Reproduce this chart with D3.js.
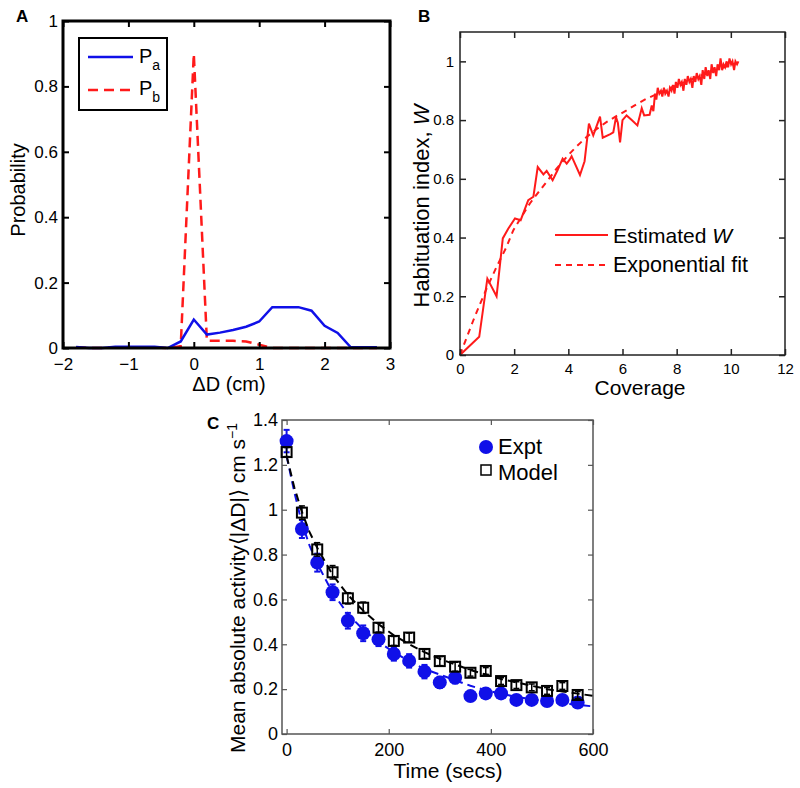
<!DOCTYPE html>
<html><head><meta charset="utf-8">
<script src="https://cdn.jsdelivr.net/npm/d3@7"></script>
<style>body{margin:0;background:#fff}svg{display:block}text{font-family:"Liberation Sans",Arial,sans-serif}</style>
</head><body><svg id="c" width="800" height="788"></svg>
<script>
// ---------- Panel A data ----------
const dD = [-1.8,-1.6,-1.4,-1.2,-1.0,-0.8,-0.6,-0.4,-0.2,0,0.2,0.4,0.6,0.8,1.0,1.2,1.4,1.6,1.8,2.0,2.2,2.4,2.6,2.8];
const Pa = [0.003,0,0,0.004,0.004,0.004,0.004,0,0.02,0.087,0.041,0.047,0.055,0.065,0.081,0.125,0.125,0.125,0.114,0.068,0.046,0.002,0.002,0.002];
const Pb = [0.002,0,0,0.002,0.002,0.002,0.002,0,0.005,0.9,0.022,0.022,0.022,0.02,0.01,0,0,0,0,0,0,0,0,0];
const aXTicks = [-2,-1,0,1,2,3];
const aXLabels = ["\u22122","\u22121","0","1","2","3"];
const aYTicks = [0,0.2,0.4,0.6,0.8,1];
const aYLabels = ["0","0.2","0.4","0.6","0.8","1"];

// ---------- Panel B data ----------
const coverage = [0,0.71,1.01,1.35,1.58,1.78,2.03,2.24,2.52,2.71,2.87,3.08,3.2,3.42,3.6,3.79,3.94,4.05,4.12,4.43,4.6,4.76,4.92,5.17,5.27,5.55,5.66,5.76,5.83,5.91,6.0,6.15,6.34,6.55,6.71,6.8,7.0,7.08,7.14,
 7.20,7.25,7.30,7.36,7.42,7.47,7.53,7.58,7.64,7.70,7.75,7.81,7.86,7.92,7.97,8.03,8.08,8.14,8.19,8.25,8.30,8.36,8.41,8.47,8.52,8.58,8.63,8.69,8.74,8.80,8.85,8.91,8.96,9.02,9.07,9.13,9.18,9.24,9.29,9.35,9.40,9.46,9.51,9.57,9.62,9.68,9.73,9.79,9.84,9.90,9.95,10.01,10.06,10.12,10.17,10.23,10.28];
const West = [0,0.062,0.26,0.20,0.397,0.43,0.465,0.459,0.527,0.539,0.64,0.615,0.627,0.595,0.629,0.669,0.652,0.665,0.677,0.613,0.66,0.788,0.748,0.812,0.74,0.752,0.758,0.81,0.79,0.724,0.80,0.816,0.80,0.782,0.84,0.816,0.818,0.85,0.83,
 0.89,0.87,0.91,0.89,0.90,0.88,0.91,0.89,0.90,0.88,0.91,0.90,0.92,0.89,0.93,0.91,0.94,0.92,0.93,0.90,0.94,0.92,0.95,0.93,0.94,0.91,0.95,0.93,0.96,0.94,0.95,0.92,0.97,0.94,0.98,0.95,0.97,0.94,0.99,0.96,0.98,0.95,0.99,0.97,1.01,0.97,0.99,0.98,1.00,0.98,1.01,0.99,1.00,0.97,1.00,0.99,1.00];
const fitCov = [0,0.25,0.5,0.75,1,1.35,1.7,1.97,2.3,2.58,2.9,3.2,3.55,3.94,4.3,4.68,5.05,5.42,5.8,6.15,6.5,6.89,7.3,7.7,8.1,8.5,8.9,9.3,9.7,10.0,10.3];
const fitW = [0,0.06,0.12,0.176,0.23,0.3,0.365,0.425,0.475,0.516,0.555,0.59,0.633,0.675,0.71,0.743,0.77,0.794,0.815,0.833,0.853,0.873,0.89,0.907,0.922,0.937,0.952,0.965,0.978,0.988,0.997];
const bXTicks = [0,2,4,6,8,10,12];
const bYTicks = [0,0.2,0.4,0.6,0.8,1];
const bYLabels = ["0","0.2","0.4","0.6","0.8","1"];

// ---------- Panel C data ----------
const time = [0,30,60,90,120,150,180,210,240,270,300,330,360,390,420,450,480,510,540,570];
const expt = [1.306,0.914,0.764,0.632,0.505,0.449,0.422,0.357,0.326,0.278,0.230,0.251,0.169,0.181,0.181,0.152,0.152,0.147,0.152,0.140];
const exptErr = [0.05,0.04,0.04,0.035,0.035,0.035,0.03,0.03,0.03,0.03,0.025,0.025,0.02,0.02,0.02,0.02,0.02,0.02,0.02,0.02];
const model = [1.257,0.987,0.823,0.721,0.605,0.563,0.474,0.415,0.43,0.357,0.325,0.30,0.273,0.281,0.236,0.218,0.208,0.192,0.214,0.174];
const modelErr = [0.02,0.03,0.03,0.03,0.025,0.025,0.02,0.02,0.02,0.02,0.02,0.02,0.015,0.015,0.015,0.015,0.015,0.015,0.015,0.015];
const fitT = [0,15,30,45,60,90,120,150,180,210,240,270,300,330,360,390,420,450,480,510,540,570,600];
const exptFit = [1.24,1.08,0.94,0.84,0.76,0.63,0.535,0.465,0.41,0.365,0.325,0.29,0.265,0.24,0.215,0.195,0.18,0.165,0.155,0.145,0.137,0.13,0.123];
const modelFit = [1.24,1.1,0.99,0.9,0.83,0.71,0.62,0.55,0.49,0.44,0.40,0.365,0.335,0.31,0.285,0.265,0.245,0.23,0.215,0.2,0.19,0.18,0.17];
const cXTicks = [0,200,400,600];
const cYTicks = [0,0.2,0.4,0.6,0.8,1,1.2,1.4];
const cYLabels = ["0","0.2","0.4","0.6","0.8","1","1.2","1.4"];

const svg = d3.select("#c");

function frame(g, x, y, xt, yt, xl, yl, opt){
  const [x0,x1] = x.range(), [y0,y1] = y.range();
  const tl = opt.tick, fs = opt.fs;
  g.append("rect").attr("x",x0).attr("y",y1).attr("width",x1-x0).attr("height",y0-y1)
    .attr("fill","none").attr("stroke",opt.color).attr("stroke-width",opt.sw);
  const bottom = g.append("g").attr("transform",`translate(0,${y0})`)
    .call(d3.axisBottom(x).tickValues(xt).tickFormat((d,i)=>xl[i]).tickSizeInner(-tl).tickSizeOuter(0).tickPadding(opt.xpad));
  const top = g.append("g").attr("transform",`translate(0,${y1})`)
    .call(d3.axisTop(x).tickValues(xt).tickFormat("").tickSizeInner(-tl).tickSizeOuter(0));
  const left = g.append("g").attr("transform",`translate(${x0},0)`)
    .call(d3.axisLeft(y).tickValues(yt).tickFormat((d,i)=>yl[i]).tickSizeInner(-tl).tickSizeOuter(0).tickPadding(opt.ypad));
  const right = g.append("g").attr("transform",`translate(${x1},0)`)
    .call(d3.axisRight(y).tickValues(yt).tickFormat("").tickSizeInner(-tl).tickSizeOuter(0));
  [bottom,top,left,right].forEach(a=>{
    a.select(".domain").remove();
    a.selectAll("line").attr("stroke",opt.color).attr("stroke-width",opt.tw);
    a.selectAll("text").attr("fill","#000").style("font-size",fs+"px").style("font-family",'"Liberation Sans",Arial,sans-serif');
  });
}

// ---------- Panel A ----------
{
  const x = d3.scaleLinear().domain([-2,3]).range([63,390]);
  const y = d3.scaleLinear().domain([0,1]).range([348,21]);
  const g = svg.append("g");
  const line = d3.line().x(d=>x(d[0])).y(d=>y(d[1]));
  g.append("path").datum(dD.map((d,i)=>[d,Pb[i]])).attr("d",line).attr("fill","none")
    .attr("stroke","#ff1a1a").attr("stroke-width",2.5).attr("stroke-dasharray","10,6");
  g.append("path").datum(dD.map((d,i)=>[d,Pa[i]])).attr("d",line).attr("fill","none")
    .attr("stroke","#1010e8").attr("stroke-width",2.5);
  frame(g,x,y,aXTicks,aYTicks,aXLabels,aYLabels,{tick:6,fs:17,color:"#000",sw:3,tw:2,xpad:10,ypad:5});
  // legend
  g.append("rect").attr("x",79).attr("y",38).attr("width",88).attr("height",72).attr("fill","#fff").attr("stroke","#000").attr("stroke-width",2);
  g.append("line").attr("x1",88).attr("x2",133).attr("y1",57).attr("y2",57).attr("stroke","#1010e8").attr("stroke-width",2.5);
  g.append("line").attr("x1",88).attr("x2",133).attr("y1",90).attr("y2",90).attr("stroke","#ff1a1a").attr("stroke-width",2.5).attr("stroke-dasharray","10,6");
  const t1 = g.append("text").attr("x",139).attr("y",63).style("font-size","20px");
  t1.append("tspan").text("P"); t1.append("tspan").attr("dy",7).style("font-size","14px").text("a");
  const t2 = g.append("text").attr("x",139).attr("y",95).style("font-size","20px");
  t2.append("tspan").text("P"); t2.append("tspan").attr("dy",7).style("font-size","14px").text("b");
  g.append("text").attr("transform","translate(25,190) rotate(-90)").attr("text-anchor","middle").style("font-size","20px").text("Probability");
  g.append("text").attr("x",229).attr("y",391).attr("text-anchor","middle").style("font-size","20px").text("\u0394D (cm)");
  g.append("text").attr("x",16).attr("y",22).style("font-size","17px").style("font-weight","bold").text("A");
}

// ---------- Panel B ----------
{
  const x = d3.scaleLinear().domain([0,12]).range([460,785]);
  const y = d3.scaleLinear().domain([0,1.1]).range([355,32]);
  const g = svg.append("g");
  const line = d3.line().x(d=>x(d[0])).y(d=>y(d[1]));
  g.append("path").datum(fitCov.map((d,i)=>[d,fitW[i]])).attr("d",line).attr("fill","none")
    .attr("stroke","#ff1a1a").attr("stroke-width",2).attr("stroke-dasharray","6,5");
  g.append("path").datum(coverage.map((d,i)=>[d,West[i]])).attr("d",line).attr("fill","none")
    .attr("stroke","#ff1a1a").attr("stroke-width",2);
  frame(g,x,y,bXTicks,bYTicks,bXTicks.map(String),bYLabels,{tick:6,fs:15,color:"#222",sw:1.5,tw:1.5,xpad:8,ypad:6});
  g.append("line").attr("x1",555).attr("x2",608).attr("y1",235).attr("y2",235).attr("stroke","#ff1a1a").attr("stroke-width",2);
  g.append("line").attr("x1",555).attr("x2",608).attr("y1",265).attr("y2",265).attr("stroke","#ff1a1a").attr("stroke-width",2).attr("stroke-dasharray","6,5");
  const t = g.append("text").attr("x",613).attr("y",243).style("font-size","21px");
  t.append("tspan").text("Estimated "); t.append("tspan").style("font-style","italic").text("W");
  g.append("text").attr("x",613).attr("y",272).style("font-size","21.5px").text("Exponential fit");
  const yl = g.append("text").attr("transform","translate(429,206) rotate(-90)").attr("text-anchor","middle").style("font-size","22px");
  yl.append("tspan").text("Habituation index, "); yl.append("tspan").style("font-style","italic").text("W");
  g.append("text").attr("x",640).attr("y",395).attr("text-anchor","middle").style("font-size","21px").text("Coverage");
  g.append("text").attr("x",418).attr("y",22).style("font-size","17px").style("font-weight","bold").text("B");
}

// ---------- Panel C ----------
{
  const x = d3.scaleLinear().domain([-9,600]).range([282,593]);
  const y = d3.scaleLinear().domain([0,1.4]).range([734,420]);
  const g = svg.append("g");
  const line = d3.line().x(d=>x(d[0])).y(d=>y(d[1]));
  frame(g,x,y,cXTicks,cYTicks,cXTicks.map(String),cYLabels,{tick:5,fs:18,color:"#555",sw:1.5,tw:1.2,xpad:9,ypad:4});
  // expt
  g.append("path").datum(fitT.map((d,i)=>[d,exptFit[i]])).attr("d",line).attr("fill","none")
    .attr("stroke","#1010e8").attr("stroke-width",2).attr("stroke-dasharray","8,5");
  const eb = g.append("g").attr("stroke","#1010e8").attr("stroke-width",2);
  time.forEach((t,i)=>{
    eb.append("line").attr("x1",x(t)).attr("x2",x(t)).attr("y1",y(expt[i]-exptErr[i])).attr("y2",y(expt[i]+exptErr[i]));
    [expt[i]-exptErr[i],expt[i]+exptErr[i]].forEach(v=>eb.append("line").attr("x1",x(t)-3).attr("x2",x(t)+3).attr("y1",y(v)).attr("y2",y(v)));
  });
  g.selectAll(".ex").data(time).enter().append("circle").attr("cx",d=>x(d)).attr("cy",(d,i)=>y(expt[i])).attr("r",7).attr("fill","#1010e8");
  // model
  g.append("path").datum(fitT.map((d,i)=>[d,modelFit[i]])).attr("d",line).attr("fill","none")
    .attr("stroke","#000").attr("stroke-width",2).attr("stroke-dasharray","8,5");
  const mb = g.append("g").attr("stroke","#000").attr("stroke-width",1.5);
  time.forEach((t,i)=>{
    mb.append("line").attr("x1",x(t)).attr("x2",x(t)).attr("y1",y(model[i]-modelErr[i])).attr("y2",y(model[i]+modelErr[i]));
    [model[i]-modelErr[i],model[i]+modelErr[i]].forEach(v=>mb.append("line").attr("x1",x(t)-3).attr("x2",x(t)+3).attr("y1",y(v)).attr("y2",y(v)));
  });
  g.selectAll(".md").data(time).enter().append("rect").attr("x",d=>x(d)-5).attr("y",(d,i)=>y(model[i])-5)
    .attr("width",10).attr("height",10).attr("fill","none").attr("stroke","#000").attr("stroke-width",2);
  // legend
  g.append("circle").attr("cx",486).attr("cy",447).attr("r",7).attr("fill","#1010e8");
  g.append("text").attr("x",498).attr("y",454).style("font-size","22px").text("Expt");
  g.append("rect").attr("x",481).attr("y",465).attr("width",10).attr("height",10).attr("fill","none").attr("stroke","#000").attr("stroke-width",1.5);
  g.append("text").attr("x",498).attr("y",480).style("font-size","22px").text("Model");
  const yl = g.append("text").attr("transform","translate(245,588) rotate(-90)").attr("text-anchor","middle").style("font-size","21px");
  yl.append("tspan").text("Mean absolute activity\u27E8|\u0394D|\u27E9 cm s");
  yl.append("tspan").attr("dy",-8).style("font-size","14px").text("\u22121");
  g.append("text").attr("x",448).attr("y",778).attr("text-anchor","middle").style("font-size","21px").text("Time (secs)");
  g.append("text").attr("x",207).attr("y",429).style("font-size","17px").style("font-weight","bold").text("C");
}
</script></body></html>
